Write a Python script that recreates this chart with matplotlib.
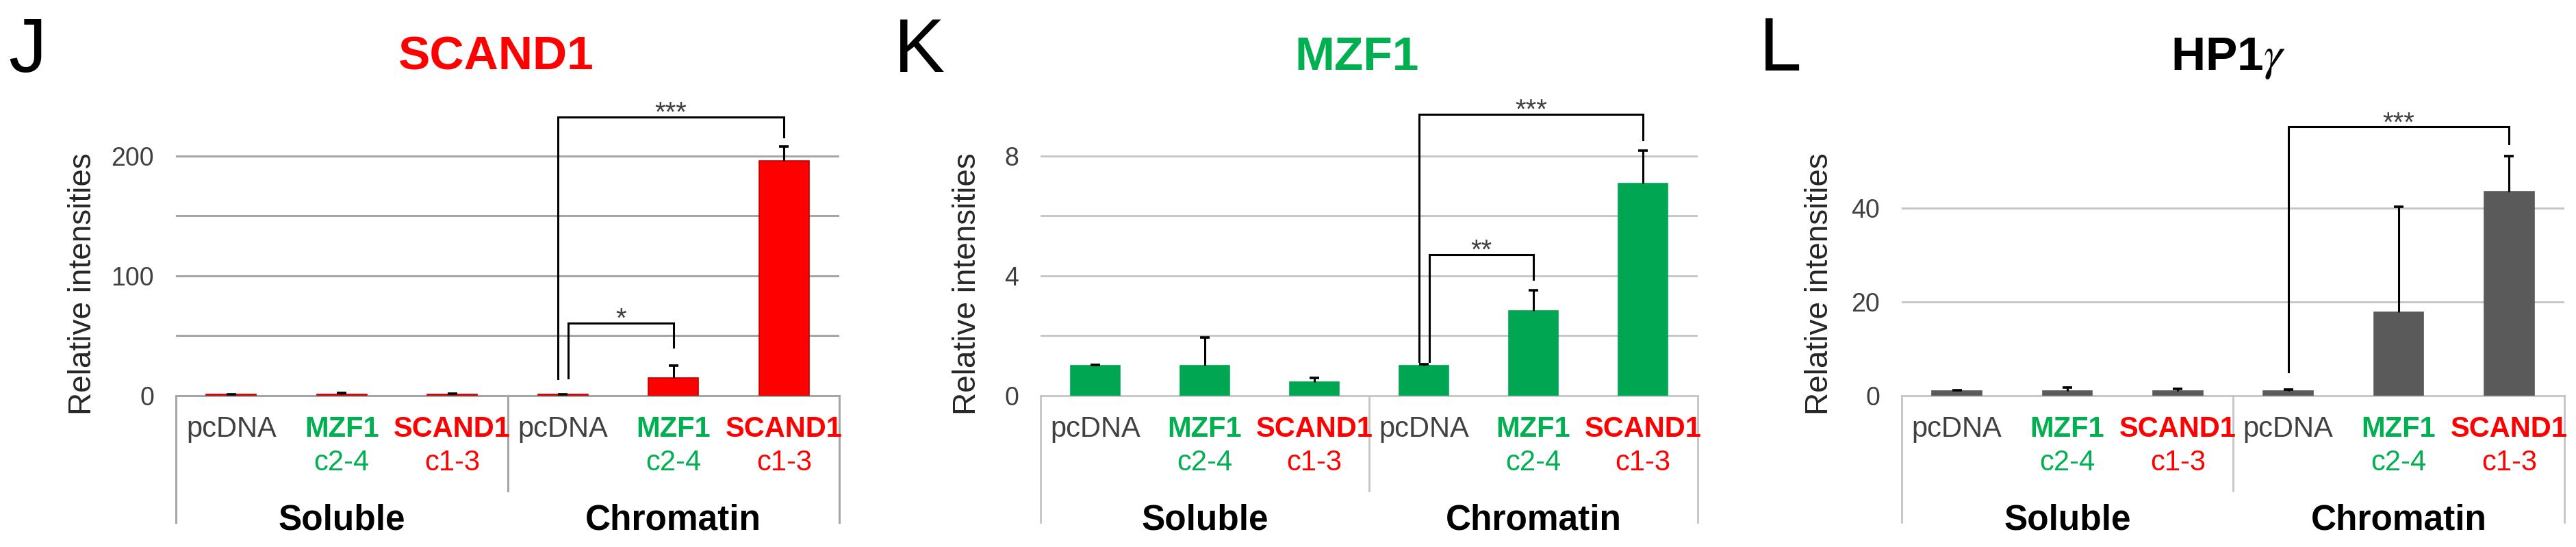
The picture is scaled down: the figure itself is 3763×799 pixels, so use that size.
import matplotlib
matplotlib.use('Agg')
import matplotlib.pyplot as plt
import numpy as np

plt.rcParams['font.family'] = ['Liberation Sans', 'DejaVu Sans']
plt.rcParams['mathtext.fontset'] = 'stix'

W, H, DPI = 3763, 799, 100

# ---------------- data ----------------
categories = ['pcDNA', 'MZF1', 'SCAND1', 'pcDNA', 'MZF1', 'SCAND1']
sublabels = ['', 'c2-4', 'c1-3', '', 'c2-4', 'c1-3']
groups = ['Soluble', 'Chromatin']

scand1_vals = [1.0, 1.0, 1.0, 1.0, 15.0, 196.0]
scand1_err = [0.3, 1.5, 0.6, 0.4, 10.0, 12.0]
scand1_ticks = [0, 100, 200]
scand1_grid = [50, 100, 150, 200]
scand1_sig = [(3, 5, 232.5, 14.0, 216.0, '***'), (3, 4, 60.6, 15.0, 40.6, '*')]

mzf1_vals = [1.0, 1.0, 0.45, 1.0, 2.82, 7.07]
mzf1_err = [0.03, 0.95, 0.15, 0.05, 0.70, 1.11]
mzf1_ticks = [0, 4, 8]
mzf1_grid = [2, 4, 6, 8]
mzf1_sig = [(3, 5, 9.39, 1.15, 8.55, '***'), (3, 4, 4.7, 1.15, 3.89, '**')]

hp1_vals = [1.0, 1.0, 1.0, 1.0, 17.8, 43.5]
hp1_err = [0.2, 0.7, 0.5, 0.25, 22.6, 7.7]
hp1_ticks = [0, 20, 40]
hp1_grid = [20, 40]
hp1_sig = [(3, 5, 57.4, 5.1, 53.8, '***')]

# ---------------- style ----------------
RED = '#FF0000'
GREEN = '#00B050'
GREY_TXT = '#404040'
label_colors = [GREY_TXT, GREEN, RED, GREY_TXT, GREEN, RED]
label_weights = ['normal', 'bold', 'bold', 'normal', 'bold', 'bold']

panels = [
    dict(letter='J', letter_x=40, letter_y=105, title='SCAND1', title_color=RED,
         title_x=725, left=257, right=1226, ytop=250, vals=scand1_vals, err=scand1_err,
         ticks=scand1_ticks, grid=scand1_grid, sig=scand1_sig, bar=RED, edge='#C00000',
         gridc='#A6A6A6', gridw=2.2, ylab_x=133),
    dict(letter='K', letter_x=1343, letter_y=105, title='MZF1', title_color=GREEN,
         title_x=1982, left=1520, right=2480, ytop=10, vals=mzf1_vals, err=mzf1_err,
         ticks=mzf1_ticks, grid=mzf1_grid, sig=mzf1_sig, bar='#00A651', edge='#00A651',
         gridc='#C4C4C4', gridw=2.0, ylab_x=1425),
    dict(letter='L', letter_x=2601, letter_y=103, title='HP1$\\gamma$', title_color='black',
         title_x=3255, left=2778, right=3746, ytop=64, vals=hp1_vals, err=hp1_err,
         ticks=hp1_ticks, grid=hp1_grid, sig=hp1_sig, bar='#5A5A5A', edge='#5A5A5A',
         gridc='#C4C4C4', gridw=2.0, ylab_x=2670),
]

AX_BOTTOM, AX_TOP = 578, 140
AXH = AX_BOTTOM - AX_TOP


def fx(px):
    return px / W


def fy(py):
    return 1 - py / H


def afy(py):
    return (AX_BOTTOM - py) / AXH


fig = plt.figure(figsize=(W / DPI, H / DPI), dpi=DPI)
fig.patch.set_facecolor('white')

for p in panels:
    ax = fig.add_axes([fx(p['left']), fy(AX_BOTTOM), (p['right'] - p['left']) / W, AXH / H])
    ax.set_xlim(-0.5, 5.5)
    ax.set_ylim(0, p['ytop'])
    for s in ax.spines.values():
        s.set_visible(False)
    ax.set_xticks([])
    ax.set_yticks(p['ticks'])
    ax.set_yticklabels([str(t) for t in p['ticks']])
    ax.tick_params(axis='y', length=0, pad=23, labelsize=27, labelcolor=GREY_TXT)
    ax.patch.set_alpha(0)

    for g in p['grid']:
        ax.axhline(g, color=p['gridc'], lw=p['gridw'], zorder=0)
    ax.axhline(0, color=p['gridc'], lw=p['gridw'], zorder=1, clip_on=False)

    x = np.arange(len(categories))
    vals = np.array(p['vals'])
    ax.bar(x, vals, width=0.45, color=p['bar'], edgecolor=p['edge'], linewidth=1.2, zorder=2)
    eb = ax.errorbar(x, vals, yerr=[np.zeros(len(x)), p['err']], fmt='none',
                     ecolor='black', elinewidth=2.2, capsize=5, capthick=2.6, zorder=3)
    for cl in eb.lines[1]:
        cl.set_clip_on(False)
        if np.allclose(np.asarray(cl.get_ydata(), dtype=float), vals):
            cl.set_visible(False)   # no cap on the lower (bar-top) side
    for lc in eb.lines[2]:
        lc.set_clip_on(False)

    # significance brackets
    sig = sorted(p['sig'], key=lambda s: -s[2])
    lefts = [s[0] for s in sig]
    for s in sig:
        i, j, top, lb, rb, lab = s
        off = 0.0
        if lefts.count(i) > 1:
            off = -0.045 if s is sig[0] else 0.05
        xl, xr = i + off, j
        ax.plot([xl, xl, xr, xr], [lb, top, top, rb], color='black', lw=2.2,
                zorder=4, clip_on=False, solid_joinstyle='miter')
        ax.annotate(lab, xy=((xl + xr) / 2, top), xytext=(0, -4.3), textcoords='offset points',
                    ha='center', va='baseline', fontsize=29, color=GREY_TXT)

    # category axis decorations
    tr = ax.get_xaxis_transform()
    ax.plot([-0.5, -0.5], [0, afy(763)], transform=tr, color=p['gridc'], lw=p['gridw'], clip_on=False)
    ax.plot([5.5, 5.5], [0, afy(763)], transform=tr, color=p['gridc'], lw=p['gridw'], clip_on=False)
    ax.plot([2.5, 2.5], [0, afy(717)], transform=tr, color=p['gridc'], lw=p['gridw'], clip_on=False)
    for k, (c, sub) in enumerate(zip(categories, sublabels)):
        ax.text(k, afy(638), c, transform=tr, ha='center', va='baseline', fontsize=30,
                color=label_colors[k], fontweight=label_weights[k])
        if sub:
            ax.text(k, afy(687), sub, transform=tr, ha='center', va='baseline', fontsize=30,
                    color=label_colors[k])
    for gi, gname in enumerate(groups):
        ax.text(1 + 3 * gi, afy(773), gname, transform=tr, ha='center', va='baseline',
                fontsize=37, fontweight='bold', color='black')

    # y label
    fig.text(fx(p['ylab_x']), fy(606), 'Relative intensities', rotation=90,
             rotation_mode='anchor', ha='left', va='baseline', fontsize=33, color='#262626')
    # title and panel letter
    fig.text(fx(p['title_x']), fy(102), p['title'], ha='center', va='baseline', fontsize=50,
             fontweight='bold', color=p['title_color'])
    fig.text(fx(p['letter_x']), fy(p['letter_y']), p['letter'], ha='center', va='baseline',
             fontsize=80, color='black')

fig.savefig('out.png', dpi=DPI, facecolor='white')
